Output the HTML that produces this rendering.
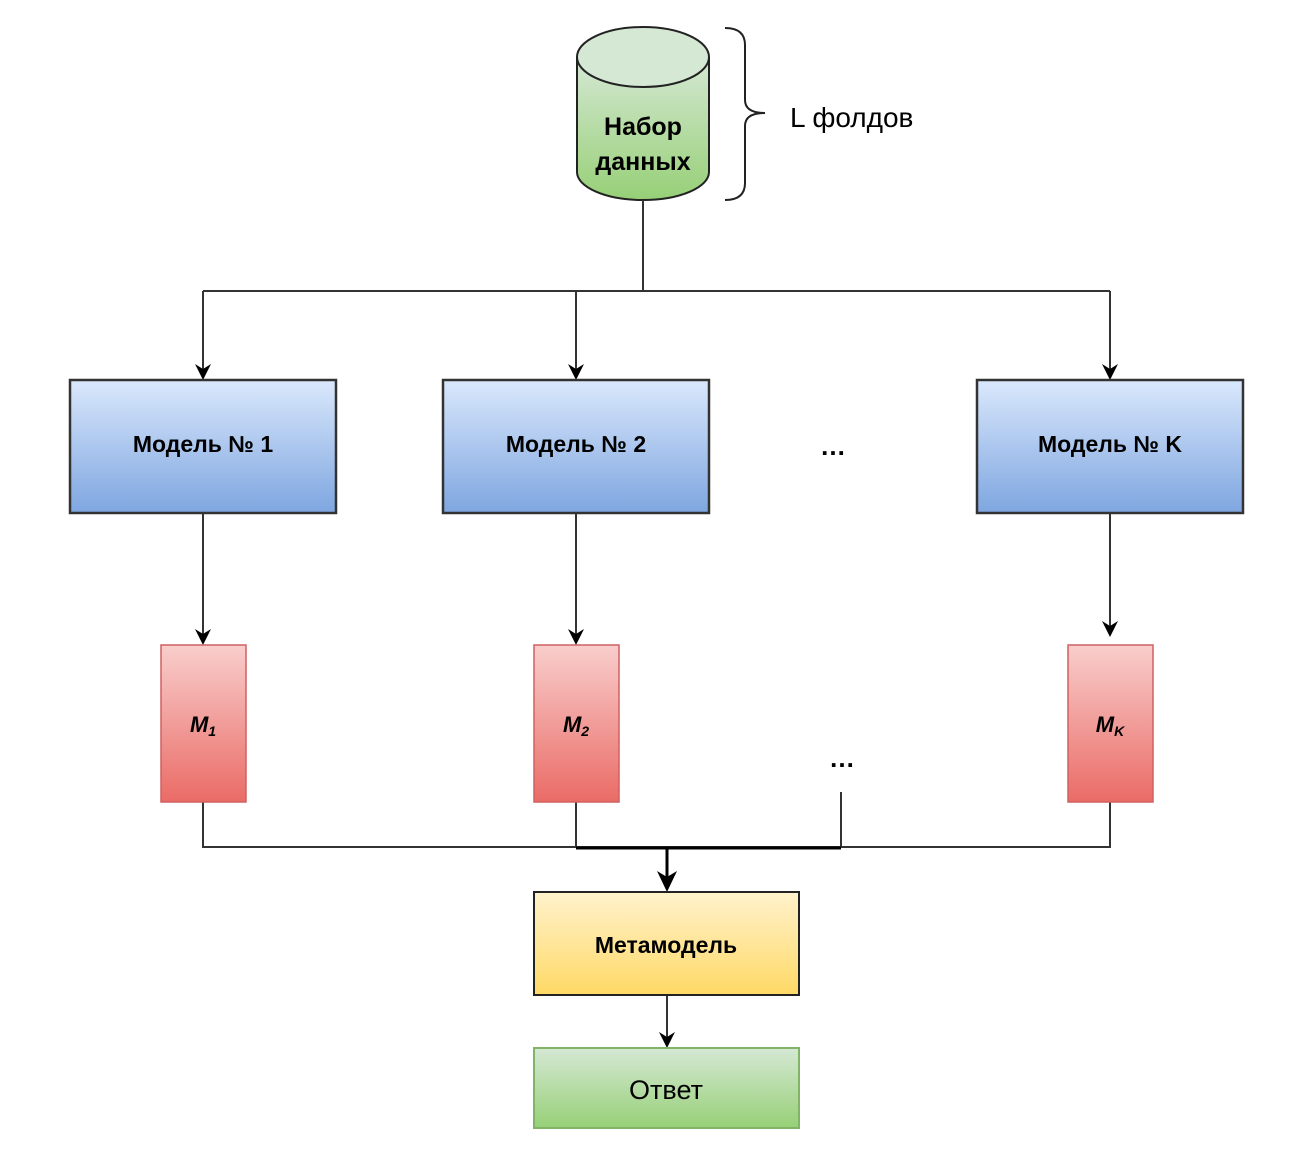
<!DOCTYPE html>
<html><head><meta charset="utf-8"><style>html,body{margin:0;padding:0;background:#fff}svg{display:block}</style></head>
<body>
<svg width="1302" height="1168" viewBox="0 0 1302 1168" xmlns="http://www.w3.org/2000/svg" font-family="Liberation Sans, sans-serif">
<defs>
<linearGradient id="g" x1="0" y1="0" x2="0" y2="1"><stop offset="0" stop-color="#d5e8d4"/><stop offset="1" stop-color="#97d077"/></linearGradient>
<linearGradient id="b" x1="0" y1="0" x2="0" y2="1"><stop offset="0" stop-color="#dae8fc"/><stop offset="1" stop-color="#7ea6e0"/></linearGradient>
<linearGradient id="r" x1="0" y1="0" x2="0" y2="1"><stop offset="0" stop-color="#f8cecc"/><stop offset="1" stop-color="#ea6b66"/></linearGradient>
<linearGradient id="y" x1="0" y1="0" x2="0" y2="1"><stop offset="0" stop-color="#fff2cc"/><stop offset="1" stop-color="#ffd966"/></linearGradient>
</defs>
<path d="M577,57 L577,172 A66,28 0 0 0 709,172 L709,57" fill="url(#g)" stroke="#222" stroke-width="2"/>
<ellipse cx="643" cy="57" rx="66" ry="30" fill="#d5e8d4" stroke="#222" stroke-width="2"/>
<text x="643" y="135" text-anchor="middle" font-size="25" font-weight="bold">Набор</text>
<text x="643" y="170" text-anchor="middle" font-size="25" font-weight="bold">данных</text>
<path d="M725,28 Q745,28 745,45 L745,100 Q745,113 765,113 Q745,113 745,126 L745,183 Q745,200 725,200" fill="none" stroke="#222" stroke-width="2"/>
<text x="790" y="127" font-size="28">L фолдов</text>
<g stroke="#333" stroke-width="2" fill="none">
<path d="M643,200 V291 M203,291 H1110"/>
<path d="M203,291 V370 M576,291 V370 M1110,291 V370"/>
<path d="M203,513 V634 M576,513 V634 M1110,513 V627"/>
<path d="M203,802 V847 H1110 V802 M576,802 V847 M841,792 V847"/>
<path d="M667,995 V1038"/>
</g>
<g fill="#000">
<path d="M195,364 L203,380 L211,364 L203,369 Z"/>
<path d="M568,364 L576,380 L584,364 L576,369 Z"/>
<path d="M1102,364 L1110,380 L1118,364 L1110,369 Z"/>
<path d="M195,629 L203,645 L211,629 L203,634 Z"/>
<path d="M568,629 L576,645 L584,629 L576,634 Z"/>
<path d="M1102,621 L1110,637 L1118,621 L1110,626 Z"/>
<path d="M659,1032 L667,1048 L675,1032 L667,1037 Z"/>
<path d="M657,871 L667,892 L677,871 L667,877 Z"/>
</g>
<path d="M667,847 V878" stroke="#000" stroke-width="3"/>
<path d="M576,848 H841" stroke="#000" stroke-width="3"/>
<g stroke="#333" stroke-width="2.5" fill="url(#b)">
<rect x="70" y="380" width="266" height="133"/>
<rect x="443" y="380" width="266" height="133"/>
<rect x="977" y="380" width="266" height="133"/>
</g>
<g font-size="23" font-weight="bold" text-anchor="middle">
<text x="203" y="452">Модель № 1</text>
<text x="576" y="452">Модель № 2</text>
<text x="1110" y="452">Модель № K</text>
</g>
<text x="833" y="455" text-anchor="middle" font-size="26" font-weight="bold">…</text>
<text x="842" y="767" text-anchor="middle" font-size="26" font-weight="bold">…</text>
<g stroke="#d06060" stroke-width="1.5" fill="url(#r)">
<rect x="161" y="645" width="85" height="157"/>
<rect x="534" y="645" width="85" height="157"/>
<rect x="1068" y="645" width="85" height="157"/>
</g>
<g font-size="22" font-weight="bold" font-style="italic" text-anchor="middle">
<text x="203" y="732">M<tspan font-size="14" dy="4">1</tspan></text>
<text x="576" y="732">M<tspan font-size="14" dy="4">2</tspan></text>
<text x="1110" y="732">M<tspan font-size="14" dy="4">K</tspan></text>
</g>
<rect x="534" y="892" width="265" height="103" fill="url(#y)" stroke="#222" stroke-width="2"/>
<text x="666" y="953" text-anchor="middle" font-size="23" font-weight="bold">Метамодель</text>
<rect x="534" y="1048" width="265" height="80" fill="url(#g)" stroke="#82b366" stroke-width="2"/>
<text x="666" y="1099" text-anchor="middle" font-size="27">Ответ</text>
</svg>
</body></html>
